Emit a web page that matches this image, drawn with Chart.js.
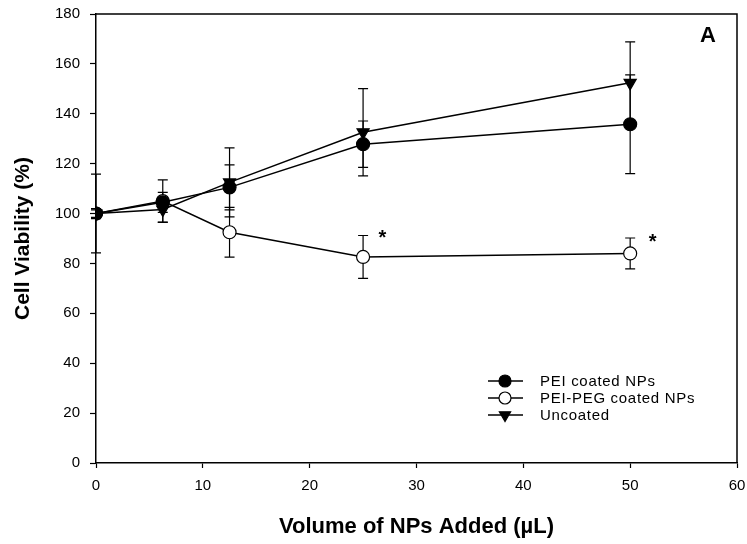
<!DOCTYPE html>
<html>
<head>
<meta charset="utf-8">
<script src="https://cdn.jsdelivr.net/npm/chart.js@4.4.1/dist/chart.umd.min.js"></script>
<style>
  html, body { margin: 0; padding: 0; background: #fff; }
</style>
</head>
<body>
<canvas id="viabilityChart" width="747" height="544"></canvas>
<script>
// 添加量 (µL)
const volumes = [0, 6.25, 12.5, 25, 50];

// 細胞生存率 (%) と標準偏差
const peiMean = [100, 104.5, 110.5, 127.8, 135.8];
const peiErr = [15.8, 4, 9, 9.3, 19.8];
const pegMean = [100, 105, 92.5, 82.6, 84.0];
const pegErr = [1.5, 8.5, 10, 8.6, 6.2];
const uncoatedMean = [100, 101.6, 112.5, 132.6, 152.4];
const uncoatedErr = [2, 5, 13.8, 17.5, 16.4];

const seriesNames = ['PEI coated NPs', 'PEI-PEG coated NPs', 'Uncoated'];

// 有意差マーク (*)
const starX = [26.8, 52.1];
const starY = [92.0, 90.5];

const FONT = '"Liberation Sans", Arial, sans-serif';

function toPoints(mean) {
    return volumes.map((v, i) => ({ x: v, y: mean[i] }));
}

function makeDataset(label, mean, err, style) {
    return {
        label: label,
        data: toPoints(mean),
        errors: err,
        borderColor: '#000',
        borderWidth: 1.5,
        pointStyle: style.shape,
        pointRotation: style.rotation || 0,
        pointRadius: style.radius,
        pointBackgroundColor: style.fill,
        pointBorderColor: '#000',
        pointBorderWidth: 1.2,
        tension: 0
    };
}

// エラーバー（マーカーの下に描く）
const errorBarPlugin = {
    id: 'errorBars',
    beforeDatasetsDraw(chart) {
        const ctx = chart.ctx;
        const xs = chart.scales.x, ys = chart.scales.y;
        ctx.save();
        ctx.strokeStyle = '#000';
        ctx.lineWidth = 1.2;
        chart.data.datasets.forEach(ds => {
            ds.data.forEach((p, i) => {
                const e = ds.errors[i];
                const px = xs.getPixelForValue(p.x);
                const top = ys.getPixelForValue(p.y + e);
                const bot = ys.getPixelForValue(p.y - e);
                ctx.beginPath();
                ctx.moveTo(px, top); ctx.lineTo(px, bot);
                ctx.moveTo(px - 5, top); ctx.lineTo(px + 5, top);
                ctx.moveTo(px - 5, bot); ctx.lineTo(px + 5, bot);
                ctx.stroke();
            });
        });
        ctx.restore();
    }
};

// 枠・凡例・注記
const decorPlugin = {
    id: 'decor',
    afterDraw(chart) {
        const ctx = chart.ctx;
        const a = chart.chartArea;
        const xs = chart.scales.x, ys = chart.scales.y;
        ctx.save();

        // 上と右の枠線
        ctx.strokeStyle = '#000';
        ctx.lineWidth = 1.5;
        ctx.beginPath();
        ctx.moveTo(a.left, a.top);
        ctx.lineTo(a.right, a.top);
        ctx.lineTo(a.right, a.bottom);
        ctx.stroke();

        // パネル記号
        ctx.fillStyle = '#000';
        ctx.font = 'bold 22px ' + FONT;
        ctx.textAlign = 'center';
        ctx.textBaseline = 'middle';
        ctx.fillText('A', a.right - 29, a.top + 22);

        // *
        ctx.font = 'bold 20px ' + FONT;
        starX.forEach((sx, i) => {
            ctx.fillText('*', xs.getPixelForValue(sx), ys.getPixelForValue(starY[i]) + 5);
        });

        // 凡例
        ctx.font = '15px ' + FONT;
        ctx.textAlign = 'left';
        if ('letterSpacing' in ctx) ctx.letterSpacing = '0.7px';
        chart.data.datasets.forEach((ds, i) => {
            const y = a.bottom - 82 + i * 17;
            const x0 = a.right - 249;
            ctx.strokeStyle = '#000';
            ctx.lineWidth = 1.5;
            ctx.beginPath();
            ctx.moveTo(x0, y);
            ctx.lineTo(x0 + 35, y);
            ctx.stroke();
            ctx.fillStyle = ds.pointBackgroundColor;
            ctx.strokeStyle = '#000';
            ctx.lineWidth = 1.2;
            Chart.helpers.drawPoint(ctx, {
                pointStyle: ds.pointStyle,
                rotation: ds.pointRotation,
                radius: ds.pointRadius - 0.5,
                borderWidth: 1.2
            }, x0 + 17, y);
            ctx.fillStyle = '#000';
            ctx.fillText(seriesNames[i], x0 + 52, y + 1);
        });
        ctx.restore();
    }
};

new Chart(document.getElementById('viabilityChart'), {
    type: 'line',
    data: {
        datasets: [
            makeDataset(seriesNames[0], peiMean, peiErr, { shape: 'circle', radius: 6.5, fill: '#000' }),
            makeDataset(seriesNames[1], pegMean, pegErr, { shape: 'circle', radius: 6.5, fill: '#fff' }),
            makeDataset(seriesNames[2], uncoatedMean, uncoatedErr, { shape: 'triangle', rotation: 180, radius: 7, fill: '#000' })
        ]
    },
    options: {
        responsive: false,
        animation: false,
        devicePixelRatio: 1,
        layout: { autoPadding: false, padding: { top: 14, right: 10, left: 0, bottom: 0 } },
        plugins: {
            legend: { display: false },
            tooltip: { enabled: false }
        },
        scales: {
            x: {
                type: 'linear',
                min: 0,
                max: 60,
                afterFit: s => {
                    s.height = 81;
                    s.paddingLeft = 0;
                    s.paddingRight = 0;
                },
                ticks: { stepSize: 10, color: '#000', padding: 9, font: { family: FONT, size: 15 } },
                grid: { drawOnChartArea: false, color: '#000', tickLength: 5, tickWidth: 1.2 },
                border: { color: '#000', width: 1.5 },
                title: {
                    display: true,
                    text: 'Volume of NPs Added (µL)',
                    color: '#000',
                    font: { family: FONT, size: 22, weight: 'bold' },
                    padding: { top: 0, bottom: 4 }
                }
            },
            y: {
                min: 0,
                max: 180,
                afterFit: s => {
                    s.width = 96;
                    s.paddingTop = 0;
                    s.paddingBottom = 0;
                },
                ticks: { stepSize: 20, color: '#000', padding: 10, font: { family: FONT, size: 15 } },
                grid: { drawOnChartArea: false, color: '#000', tickLength: 6, tickWidth: 1.2 },
                border: { color: '#000', width: 1.5 },
                title: {
                    display: true,
                    text: 'Cell Viability (%)',
                    color: '#000',
                    font: { family: FONT, size: 21, weight: 'bold' },
                    padding: { top: 11, bottom: 0 }
                }
            }
        }
    },
    plugins: [errorBarPlugin, decorPlugin]
});
</script>
</body>
</html>
